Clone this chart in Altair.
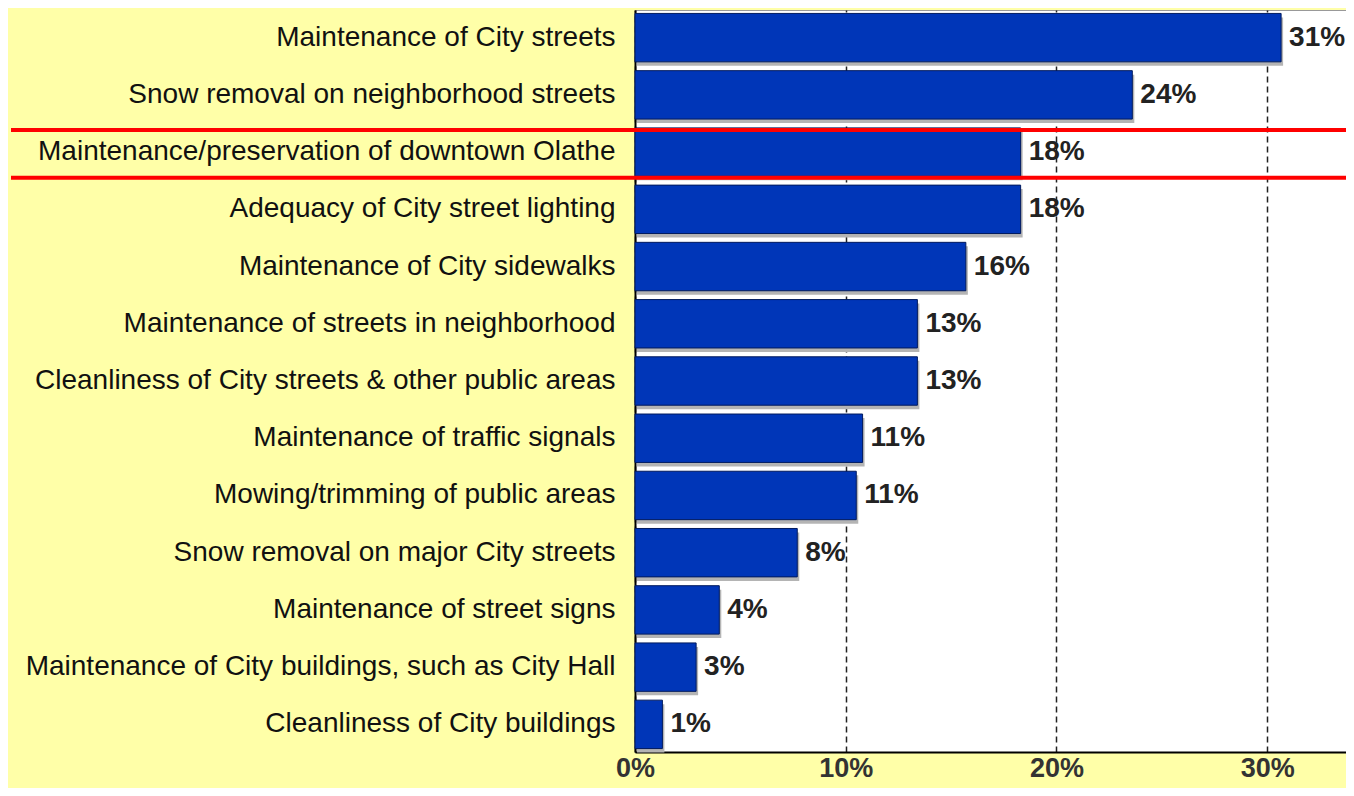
import altair as alt
import pandas as pd

cats = [
    "Maintenance of City streets",
    "Snow removal on neighborhood streets",
    "Maintenance/preservation of downtown Olathe",
    "Adequacy of City street lighting",
    "Maintenance of City sidewalks",
    "Maintenance of streets in neighborhood",
    "Cleanliness of City streets & other public areas",
    "Maintenance of traffic signals",
    "Mowing/trimming of public areas",
    "Snow removal on major City streets",
    "Maintenance of street signs",
    "Maintenance of City buildings, such as City Hall",
    "Cleanliness of City buildings",
]
values = [30.66, 23.6, 18.3, 18.3, 15.7, 13.4, 13.4, 10.8, 10.5, 7.7, 4.0, 2.9, 1.3]
labels = ["31%", "24%", "18%", "18%", "16%", "13%", "13%", "11%", "11%", "8%", "4%", "3%", "1%"]
highlight = ["Maintenance/preservation of downtown Olathe"]
ticks = [0, 10, 20, 30]

df = pd.DataFrame({"cat": cats, "value": values, "label": labels})
hl = pd.DataFrame({"cat": highlight})

W, H = 711, 742
FONT = "Liberation Sans"

yscale = alt.Scale(paddingInner=0.154, paddingOuter=0.06)
xscale = alt.Scale(domain=[0, 33.74], nice=False, zero=True)

y_enc = alt.Y(
    "cat:N", sort=cats, scale=yscale, title=None,
    axis=alt.Axis(
        labelFont=FONT, labelFontSize=28, labelColor="#111111",
        labelPadding=20, labelLimit=1000, ticks=False,
        domainColor="#000000", domainWidth=2, grid=False,
    ),
)
x_enc = alt.X(
    "value:Q", scale=xscale, title=None,
    axis=alt.Axis(
        values=ticks, labelExpr="datum.value + '%'",
        labelFont=FONT, labelFontSize=27, labelFontWeight="bold",
        labelColor="#333333", labelPadding=3, ticks=False,
        domainColor="#000000", domainWidth=2,
        grid=True, gridColor="#222222", gridDash=[6, 4], gridWidth=1.5,
        labelFlush=False,
    ),
)

base = alt.Chart(df)

shadow = base.mark_bar(color="#b4b4b4", xOffset=2, yOffset=4).encode(
    y=alt.Y("cat:N", sort=cats, scale=yscale),
    x=alt.X("value:Q", scale=xscale),
)

bars = base.mark_bar(color="#0036B8", stroke="#001a5e", strokeWidth=1).encode(
    y=y_enc, x=x_enc
)

text = base.mark_text(
    align="left", baseline="middle", dx=8, font=FONT, fontSize=28,
    fontWeight="bold", color="#222222",
).encode(
    y=alt.Y("cat:N", sort=cats, scale=yscale),
    x=alt.X("value:Q", scale=xscale),
    text="label:N",
)

red_top = alt.Chart(hl).mark_rule(color="#FF0000", strokeWidth=4, yOffset=2).encode(
    y=alt.Y("cat:N", sort=cats, scale=yscale, bandPosition=0),
    x=alt.value(-624), x2=alt.value(W),
)
red_bot = alt.Chart(hl).mark_rule(color="#FF0000", strokeWidth=4, yOffset=1.5).encode(
    y=alt.Y("cat:N", sort=cats, scale=yscale, bandPosition=1),
    x=alt.value(-624), x2=alt.value(W),
)

chart = alt.layer(shadow, bars, text, red_top, red_bot).properties(
    width=W, height=H,
    autosize=alt.AutoSizeParams(type="none"),
    padding={"left": 627, "top": 2, "right": 0, "bottom": 36},
    background="#FFFFA8",
).configure_view(fill="#FFFFFF", stroke="#999999", strokeWidth=1)

chart.save("out.html", embed_options={"renderer": "svg", "actions": False})
